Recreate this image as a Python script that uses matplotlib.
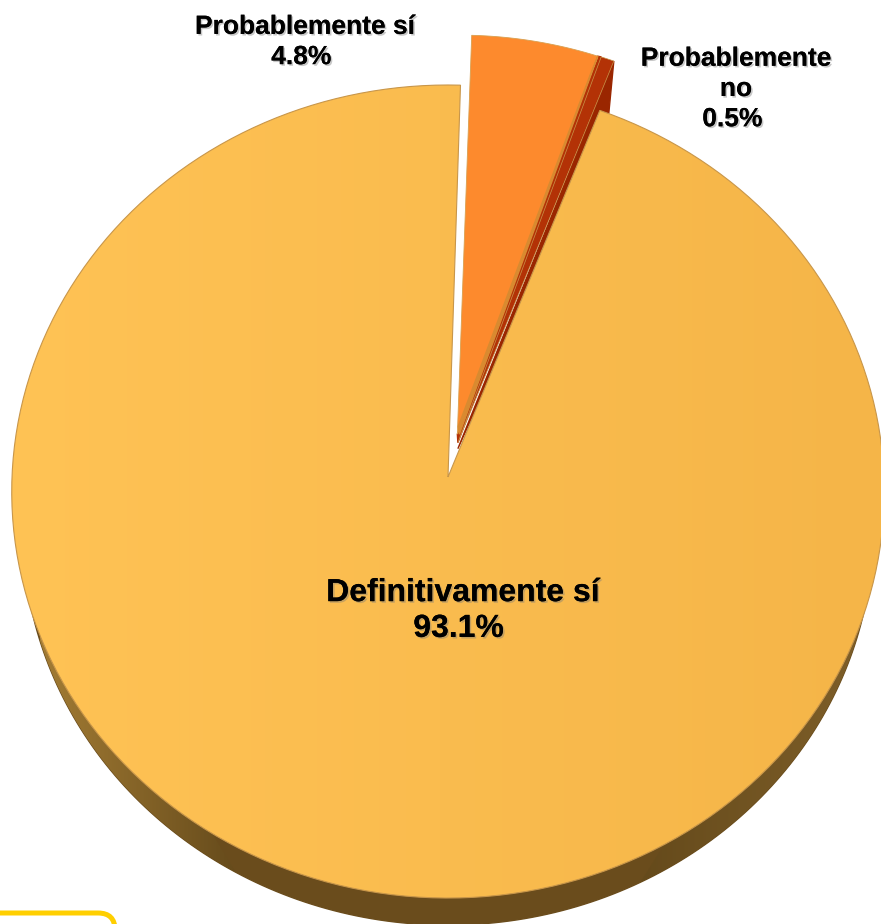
import numpy as np
import matplotlib
matplotlib.use("Agg")
import matplotlib.pyplot as plt
import matplotlib.patheffects as pe
from matplotlib.colors import LinearSegmentedColormap
from matplotlib.patches import FancyBboxPatch, Polygon

plt.rcParams['font.family'] = ['Liberation Sans', 'DejaVu Sans']

labels = ["Probablemente sí\n4.8% ", "Probablemente\nno\n0.5% ", "Definitivamente sí\n93.1% "]
values = [4.8, 0.5, 93.1]

W, H = 881, 924
CX, CY = 448, 477
BX, AY = 436, 406
K = 0.0357
START = 1.7


def project(u, v, scale=1.0, dy=0.0):
    # tilted disc, the near side comes out a bit larger
    u = np.asarray(u) * scale
    v = np.asarray(v) * scale
    d = 1 + K * v
    return CX + BX * u / d, CY - AY * v / d + dy


def wedge(a0, a1, explode=0.0, direction=0.0, apex=1.0, n=200):
    t = np.radians(np.linspace(a0, a1, n))
    ex = explode * np.sin(np.radians(direction))
    ey = explode * np.cos(np.radians(direction))
    u = np.concatenate([[ex * apex], np.sin(t) + ex])
    v = np.concatenate([[ey * apex], np.cos(t) + ey])
    return project(u, v)


def gradient_fill(ax, xs, ys, c0, c1, x0=0, x1=W, zorder=1, edge=None):
    cmap = LinearSegmentedColormap.from_list("g", [c0, c1])
    img = ax.imshow(np.linspace(0, 1, 256).reshape(1, -1), cmap=cmap, aspect="auto",
                    extent=(x0, x1, H, 0), zorder=zorder)
    poly = Polygon(np.column_stack([xs, ys]), closed=True, transform=ax.transData,
                   facecolor="none", edgecolor=edge or "none", lw=0.8, zorder=zorder + 0.1)
    ax.add_patch(poly)
    img.set_clip_path(poly)


fig = plt.figure(figsize=(W / 100, H / 100), dpi=100)
ax = fig.add_axes([0, 0, 1, 1])

shares = np.array(values) / sum(values) * 360
a_orange = (START, START + shares[0])
a_red = (a_orange[1], a_orange[1] + shares[1])
a_main = (a_red[1], a_red[1] + shares[2])

# side of the big slice, lower half only so nothing shows in the gap
t = np.radians(np.arange(90, 271))
rx, ry = project(np.sin(t), np.cos(t), 0.975, 38)
ax.fill(rx, ry, color="#6a4c1c", zorder=1)
gradient_fill(ax, rx[rx < 240], ry[rx < 240], "#a37c34", "#654a1b", x0=40, x1=240, zorder=1.2)
gradient_fill(ax, rx[rx > 640], ry[rx > 640], "#654a1b", "#80602a", x0=640, x1=W, zorder=1.3)

xo, yo = wedge(*a_orange, explode=0.135, direction=11.5, apex=0.8)
xr, yr = wedge(*a_red, explode=0.135, direction=15, apex=0.65, n=20)

# red slice, its face runs right up to the orange one
ax.fill([xr[-1], xr[-1] - 5, xr[0]], [yr[-1], yr[-1] + 52, yr[0] + 6], color="#9a2600", zorder=2)
ax.fill([xo[-1], xr[1], xr[0], xo[0]], [yo[-1], yr[1], yr[0], yo[0]], color="#b33206", zorder=2.1)
ax.fill(xr, yr, color="#b33206", edgecolor="#c8964a", lw=0.5, zorder=2.2)

# orange slice
ax.fill(xo, yo, color="#fd8a2d", edgecolor="#d9a050", lw=0.6, zorder=2.5)
ax.fill([xo[-1], xo[-1] - 7, xo[0] + 1, xo[0] + 2], [yo[-1], yo[-1] + 17, yo[0] - 8, yo[0]],
        color="#d98a30", zorder=2.6)

# big slice
xm, ym = wedge(*a_main)
gradient_fill(ax, xm, ym, "#ffc355", "#f5b548", zorder=3, edge="#c8964a")

# rounded box of the slide peeking in at the corner
ax.add_patch(FancyBboxPatch((-60, 913), 175, 100, boxstyle="round,pad=0,rounding_size=17",
                            facecolor="white", edgecolor="#ffcf00", lw=3.6, zorder=4))

shadow = [pe.withSimplePatchShadow(offset=(1.2, -1.2), shadow_rgbFace="#777777", alpha=0.4), pe.Normal()]
ax.text(305, 42, labels[0], ha="center", va="center", fontsize=19, fontweight="bold",
        linespacing=1.33, path_effects=shadow, zorder=5)
ax.text(736, 89, labels[1], ha="center", va="center", fontsize=19, fontweight="bold",
        linespacing=1.33, path_effects=shadow, zorder=5)
ax.text(463, 611, labels[2], ha="center", va="center", fontsize=23, fontweight="bold",
        linespacing=1.25, path_effects=shadow, zorder=5)

ax.set_xlim(0, W)
ax.set_ylim(H, 0)
ax.axis("off")
fig.savefig("out.png", dpi=100)
